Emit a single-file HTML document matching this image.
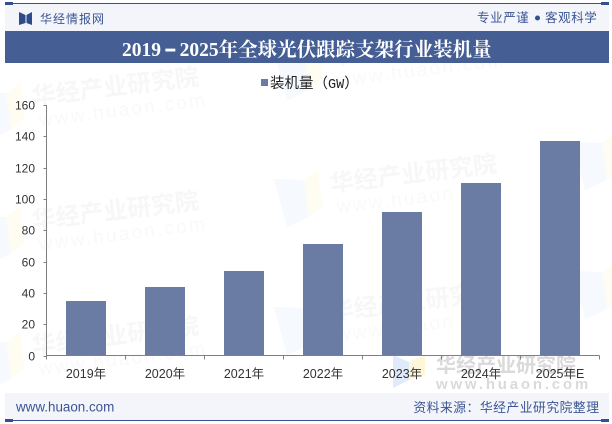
<!DOCTYPE html>
<html lang="zh">
<head>
<meta charset="utf-8">
<title>2019-2025年全球光伏跟踪支架行业装机量</title>
<style>
html,body{margin:0;padding:0;background:#fff;width:612px;height:424px;overflow:hidden}
#page{position:relative;width:612px;height:424px;overflow:hidden;background:#fff;font-family:"Liberation Sans","Noto Sans CJK SC",sans-serif}
svg{position:absolute;left:0;top:0;display:block;overflow:hidden}
</style>
</head>
<body>
<div id="page">
<svg id="chart" width="612" height="424" viewBox="0 0 612 424">
  <g id="watermarks"></g>

  <rect x="5" y="4" width="604" height="27" fill="#f3f5fa"/>
  <rect x="5" y="3" width="604" height="1" fill="#33508f"/>
  <rect x="5" y="2" width="8" height="3" fill="#33508f"/>
  <rect x="601" y="2" width="8" height="3" fill="#33508f"/>
  <g fill="#2f4b8a">
    <polygon points="19,12 25.500,15 25.500,23 19,25"/>
    <polygon points="32,12 26.500,15 26.500,23 32,25"/>
  </g>
  <text x="40" y="23" font-size="12" fill="#3b5594" letter-spacing="1">华经情报网</text>
  <text x="477" y="22" font-size="12.500" fill="#3b5594" letter-spacing="0.600">专业严谨</text>
  <circle cx="537.500" cy="18" r="2.500" fill="#33508f"/>
  <text x="545" y="22" font-size="12.500" fill="#3b5594" letter-spacing="0.600">客观科学</text>

  <rect x="5" y="31" width="604" height="32" fill="#455f95"/>
  <text x="122" y="56" font-size="19.500" font-weight="700" fill="#ffffff" style="font-family:'Liberation Serif','Noto Serif CJK SC',serif">2019<tspan dx="3" dy="3" font-size="38" font-weight="400">-</tspan><tspan dx="3" dy="-3">2025年全球光伏跟踪支架行业装机量</tspan></text>

  <rect x="261" y="79" width="7" height="7" fill="#6a7ca3"/>
  <text x="270" y="88" font-size="14.500" fill="#222">装机量（<tspan font-size="13.500" style="font-family:'Liberation Mono',monospace">GW</tspan>）</text>

  <g id="bars"></g>
  <g id="axes"></g>

  <rect x="5" y="393" width="604" height="27" fill="#f3f5fa"/>
  <rect x="5" y="420" width="604" height="1" fill="#33508f"/>
  <rect x="5" y="419" width="8" height="3" fill="#33508f"/>
  <rect x="601" y="419" width="8" height="3" fill="#33508f"/>
  <text x="16" y="411.500" font-size="13.400" fill="#3b5594">www.huaon.com</text>
  <text x="599.500" y="412" text-anchor="end" font-size="12.800" fill="#3b5594" letter-spacing="0.500">资料来源：华经产业研究院整理</text>
</svg>
</div>
<script>
const categories = ['2019年', '2020年', '2021年', '2022年', '2023年', '2024年', '2025年E'];
const installedCapacity = [35, 44, 54, 71, 91.5, 110, 137];
const yTickLabels = [0, 20, 40, 60, 80, 100, 120, 140, 160];

const NS = 'http://www.w3.org/2000/svg';
const plotLeft = 46.5, plotRight = 599.5, plotBottom = 355.5, plotTop = 105;
const yMax = 160, barWidth = 40;
const catStep = (plotRight - plotLeft) / categories.length;
const xBand = i => plotLeft + catStep * i;
const xCenter = i => xBand(i) + catStep / 2;
const yScale = v => plotBottom - (v / yMax) * (plotBottom - plotTop);

function make(tag, attrs, parent, text) {
  const el = document.createElementNS(NS, tag);
  for (const k in attrs) el.setAttribute(k, attrs[k]);
  if (text !== undefined) el.textContent = text;
  parent.appendChild(el);
  return el;
}

const barsG = document.getElementById('bars');
const axesG = document.getElementById('axes');
const wmG = document.getElementById('watermarks');

installedCapacity.forEach((v, i) => {
  const top = Math.round(yScale(v));
  const r = make('rect', {x: xCenter(i) - barWidth / 2, y: top, width: barWidth, height: plotBottom - top, fill: '#6a7ca3'}, barsG);
  
  
});

const yAxisLine = make('line', {x1: plotLeft, x2: plotLeft, y1: plotTop, y2: plotBottom, stroke: '#808080', 'stroke-width': 1}, axesG);


const xAxisLine = make('line', {x1: plotLeft, x2: plotRight, y1: plotBottom, y2: plotBottom, stroke: '#808080', 'stroke-width': 1}, axesG);



yTickLabels.forEach(v => {
  const y = Math.round(yScale(v)) + 0.5;
  const t = make('line', {x1: plotLeft - 3, x2: plotLeft, y1: y, y2: y, stroke: '#808080', 'stroke-width': 1}, axesG);
  
  
  const l = make('text', {x: 35, y: y + 4, 'text-anchor': 'end', 'font-size': 12, fill: '#333'}, axesG, String(v));
  
  
});

for (let i = 0; i <= categories.length; i++) {
  const t = make('line', {x1: xBand(i), x2: xBand(i), y1: plotBottom, y2: plotBottom + 4, stroke: '#808080', 'stroke-width': 1}, axesG);
  
  
}
categories.forEach((c, i) => {
  const l = make('text', {x: xCenter(i), y: 378, 'text-anchor': 'middle', 'font-size': 12.5, fill: '#333'}, axesG, c);
  
  
});

function watermarkIcon(x, y) {
  const g = make('g', {transform: 'translate(' + x + ',' + y + ') rotate(-7)'}, wmG);
  
  
  make('polygon', {points: '-55,-20 -25,-15 -25,22 -48,30', fill: '#f6f9fe'}, g);
  make('polygon', {points: '-25,-15 -10,-24 -10,13 -25,22', fill: '#fffdf2'}, g);
  return g;
}
function watermark(x, y) {
  const g = watermarkIcon(x, y);
  
  make('text', {x: 0, y: 0, 'font-size': 24, 'font-weight': 700, fill: '#f7f7f7'}, g, '华经产业研究院');
  make('text', {x: 4, y: 22, 'font-size': 19, fill: '#f9f9f9', 'letter-spacing': 2.300}, g, 'www.huaon.com');
}
watermark(33, 105);
watermark(33, 229);
watermark(33, 354);
watermark(331, 65);
watermark(331, 192);
watermark(331, 320);
watermarkIcon(629, 155);
watermarkIcon(629, 284);

const stamp = make('g', {}, wmG);


make('polygon', {points: '393,355 409,362 409,380 393,388', fill: '#dfeafa'}, stamp);
make('polygon', {points: '409,362 425,355 425,375 409,380', fill: '#fdf6d8'}, stamp);
make('text', {x: 436, y: 372, 'font-size': 20, 'font-weight': 700, fill: '#dadada'}, stamp, '华经产业研究院');
make('text', {x: 436, y: 389, 'font-size': 15, 'font-weight': 700, fill: '#dadada', 'letter-spacing': 2.800}, stamp, 'www.huaon.com');
</script>
</body>
</html>
